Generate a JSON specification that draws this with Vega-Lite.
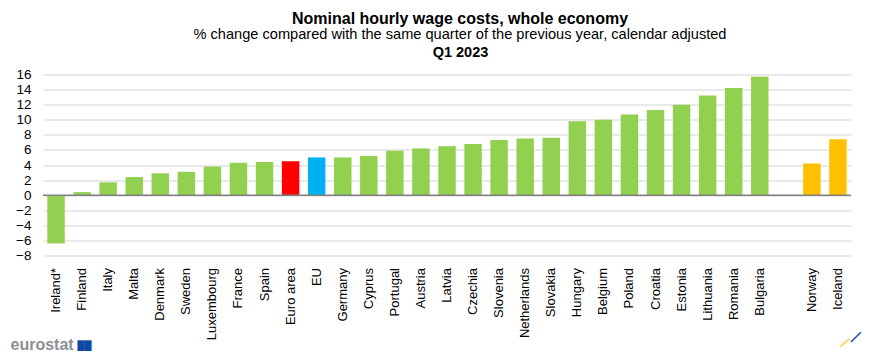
{
"$schema":"https://vega.github.io/schema/vega-lite/v6.json",
"width":808,"height":181,
"autosize":{"type":"none"},
"padding":{"left":43,"top":74.5,"right":21,"bottom":100.5},
"background":"white",
"config":{"view":{"stroke":null},"font":"Liberation Sans"},
"title":{"text":"Nominal hourly wage costs, whole economy","subtitle":"% change compared with the same quarter of the previous year, calendar adjusted","anchor":"middle","frame":"group","dx":13,"dy":1,"font":"Liberation Sans","fontSize":16,"fontWeight":"bold","color":"black","subtitleFont":"Liberation Sans","subtitleFontSize":14.6,"subtitleColor":"black","subtitlePadding":0},
"data":{"values":[
{"country":"Ireland*","value":-6.4,"group":"Member"},
{"country":"Finland","value":0.4,"group":"Member"},
{"country":"Italy","value":1.7,"group":"Member"},
{"country":"Malta","value":2.4,"group":"Member"},
{"country":"Denmark","value":2.9,"group":"Member"},
{"country":"Sweden","value":3.1,"group":"Member"},
{"country":"Luxembourg","value":3.8,"group":"Member"},
{"country":"France","value":4.3,"group":"Member"},
{"country":"Spain","value":4.4,"group":"Member"},
{"country":"Euro area","value":4.5,"group":"Euro area"},
{"country":"EU","value":5.0,"group":"EU"},
{"country":"Germany","value":5.0,"group":"Member"},
{"country":"Cyprus","value":5.2,"group":"Member"},
{"country":"Portugal","value":5.9,"group":"Member"},
{"country":"Austria","value":6.2,"group":"Member"},
{"country":"Latvia","value":6.5,"group":"Member"},
{"country":"Czechia","value":6.8,"group":"Member"},
{"country":"Slovenia","value":7.3,"group":"Member"},
{"country":"Netherlands","value":7.5,"group":"Member"},
{"country":"Slovakia","value":7.6,"group":"Member"},
{"country":"Hungary","value":9.8,"group":"Member"},
{"country":"Belgium","value":10.0,"group":"Member"},
{"country":"Poland","value":10.7,"group":"Member"},
{"country":"Croatia","value":11.3,"group":"Member"},
{"country":"Estonia","value":12.0,"group":"Member"},
{"country":"Lithuania","value":13.2,"group":"Member"},
{"country":"Romania","value":14.2,"group":"Member"},
{"country":"Bulgaria","value":15.7,"group":"Member"},
{"country":"Norway","value":4.2,"group":"EFTA"},
{"country":"Iceland","value":7.4,"group":"EFTA"}
]},
"resolve":{"axis":{"x":"independent","y":"independent"}},
"layer":[
{"mark":{"type":"bar"},
 "encoding":{
  "x":{"field":"country","type":"nominal","sort":null,
   "scale":{"domain":["Ireland*","Finland","Italy","Malta","Denmark","Sweden","Luxembourg","France","Spain","Euro area","EU","Germany","Cyprus","Portugal","Austria","Latvia","Czechia","Slovenia","Netherlands","Slovakia","Hungary","Belgium","Poland","Croatia","Estonia","Lithuania","Romania","Bulgaria"," ","Norway","Iceland"],"paddingInner":0.33,"paddingOuter":0.165},
   "axis":{"orient":"bottom","title":"eurostat","titleX":-33,"titleY":94,"titleAlign":"left","titleBaseline":"alphabetic","titleColor":"#8a8f94","titleFont":"Liberation Sans","titleFontSize":16,"titleFontWeight":"bold","labelAngle":270,"labelAlign":"right","labelBaseline":"middle","labelFontSize":13,"labelColor":"black","labelPadding":12,"ticks":false,"domain":false,"grid":false,"labelOverlap":false}},
  "y":{"field":"value","type":"quantitative",
   "scale":{"domain":[-8,16],"nice":false},
   "axis":{"values":[-8,-6,-4,-2,0,2,4,6,8,10,12,14,16],"title":"Q1 2023","titleAngle":0,"titleX":417,"titleY":-22,"titleAlign":"center","titleBaseline":"middle","titleColor":"black","titleFont":"Liberation Sans","titleFontSize":14.5,"titleFontWeight":"bold","labelFontSize":13.5,"labelColor":"black","labelPadding":12,"labelOverlap":false,"ticks":false,"domain":false,"grid":true,"gridColor":"#d4d4d4","gridWidth":1.2}},
  "color":{"field":"group","type":"nominal","legend":null,
   "scale":{"domain":["Member","Euro area","EU","EFTA"],"range":["#92d050","#ff0000","#00b0f0","#ffc000"]}}
 }},
{"mark":{"type":"rule","color":"#808080","strokeWidth":1.5},
 "data":{"values":[{"zero":0}]},
 "encoding":{"y":{"field":"zero","type":"quantitative","axis":null}}},
{"mark":{"type":"bar","opacity":0},
 "encoding":{
  "x":{"field":"country","type":"nominal","sort":null,
   "axis":{"orient":"top","labels":false,"ticks":false,"domain":false,"grid":false,"title":"██","titleFont":"DejaVu Sans","titleFontSize":9,"titleColor":"#0f47a1","titleX":41,"titleY":270.5,"titleAlign":"center","titleBaseline":"middle"}},
  "y":{"field":"value","type":"quantitative",
   "axis":{"orient":"right","labels":false,"ticks":false,"domain":false,"grid":false,"title":"—","titleFont":"Liberation Sans","titleFontSize":14,"titleFontWeight":"bold","titleColor":"#1546c0","titleAngle":315,"titleX":4,"titleY":262,"titleAlign":"center","titleBaseline":"middle"}}
 }},
{"mark":{"type":"bar","opacity":0},
 "encoding":{
  "x":{"field":"country","type":"nominal","sort":null,
   "axis":{"orient":"top","labels":false,"ticks":false,"domain":false,"grid":false,"title":"—","titleFont":"Liberation Sans","titleFontSize":12,"titleFontWeight":"bold","titleColor":"#ffc914","titleAngle":320,"titleX":801,"titleY":267,"titleAlign":"center","titleBaseline":"middle"}},
  "y":{"field":"value","type":"quantitative","axis":null}
 }}
]
}
